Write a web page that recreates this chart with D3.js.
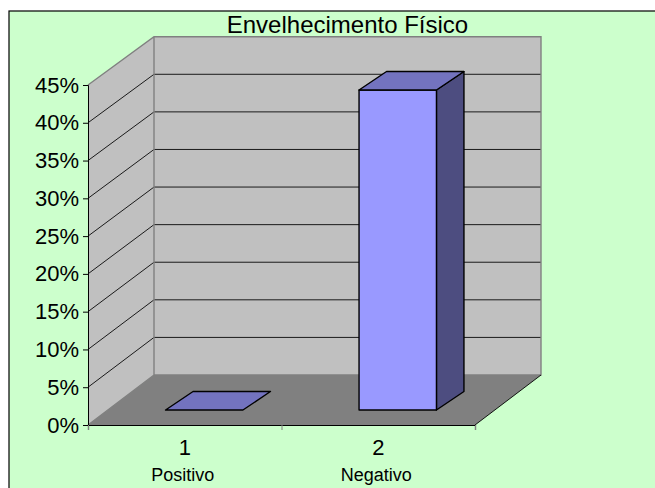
<!DOCTYPE html>
<html><head><meta charset="utf-8">
<script src="https://cdn.jsdelivr.net/npm/d3@7"></script>
<style>html,body{margin:0;padding:0;background:#fff}svg{display:block}text{font-family:"Liberation Sans",Arial,sans-serif;fill:#000}</style>
</head><body><svg id="c" width="655" height="488"></svg>
<script>
const title = "Envelhecimento Físico";
const categories = ["1","2"];
const categoryNames = ["Positivo","Negativo"];
const values = [0, 0.4235];
const yTicks = [0,.05,.1,.15,.2,.25,.3,.35,.4,.45];

const svg = d3.select("#c");
const W=655,H=488;
const dx=66, bdx=27.5, bdy=18.5, offX=19.5, offY=15;
const y=d3.scaleLinear().domain([0,.45]).range([425,85]);
const yBack=d3.scaleLinear().domain([0,.45]).range([375,36.7]);
const xb=d3.scaleBand().domain(categories).range([88,475]).paddingInner(.6).paddingOuter(.3);
const xe=d3.scaleLinear().domain([0,2]).range([88,475]);
const pts=a=>a.map(p=>p.join(",")).join(" ");

svg.append("rect").attr("x",9).attr("y",11).attr("width",W+5).attr("height",H+5).attr("fill","#ccffcc").attr("stroke","#000").attr("stroke-width",1.2);

const xL=xe(0),xR=xe(2),yB=y(0),yT=y(.45),bB=yBack(0),bT=yBack(.45);
// walls
svg.append("polygon").attr("points",pts([[xL+dx,bT],[xR+dx,bT],[xR+dx,bB],[xL+dx,bB]])).attr("fill","#c0c0c0");
svg.append("polygon").attr("points",pts([[xL,yT],[xL+dx,bT],[xL+dx,bB],[xL,yB]])).attr("fill","#c0c0c0");
svg.append("polygon").attr("points",pts([[xL,yB],[xR,yB],[xR+dx,bB],[xL+dx,bB]])).attr("fill","#808080");

// gridlines
const grid=svg.append("g").attr("fill","none");
yTicks.slice(1,-1).forEach(t=>{
  grid.append("path").attr("d",`M${xL},${y(t)}L${xL+dx},${yBack(t)}L${xR+dx},${yBack(t)}`).attr("stroke","#1a1a1a").attr("stroke-width",1);
});
// wall borders
svg.append("path").attr("fill","none").attr("stroke","#808080").attr("stroke-width",1.4)
  .attr("d",`M${xL},${yT}L${xL+dx},${bT}L${xR+dx},${bT}L${xR+dx},${bB}L${xL+dx},${bB}L${xL+dx},${bT}M${xL},${yB}L${xL+dx},${bB}`);
svg.append("line").attr("x1",xR).attr("y1",yB).attr("x2",xR+dx).attr("y2",bB).attr("stroke","#000").attr("stroke-width",.9);

// bars
categories.forEach((c,i)=>{
  const x0=xb(c)+offX, x1=x0+xb.bandwidth(), b=y(0)-offY, t=y(values[i])-offY;
  const g=svg.append("g").attr("stroke","#000").attr("stroke-width",1.4).attr("stroke-linejoin","round");
  if(values[i]>0){
    g.append("polygon").attr("points",pts([[x1,t],[x1+bdx,t-bdy],[x1+bdx,b-bdy],[x1,b]])).attr("fill","#4d4d80");
    g.append("polygon").attr("points",pts([[x0,t],[x1,t],[x1,b],[x0,b]])).attr("fill","#9999ff");
  }
  g.append("polygon").attr("points",pts([[x0,t],[x1,t],[x1+bdx,t-bdy],[x0+bdx,t-bdy]])).attr("fill","#7373bf");
});

// axes
const ya=svg.append("g").attr("transform",`translate(${xL},0)`)
  .call(d3.axisLeft(y).tickValues(yTicks).tickSize(5).tickPadding(4).tickFormat(d3.format(".0%")));
ya.selectAll("text").attr("font-size",22);
ya.select(".domain").attr("stroke","#000");
const xa=svg.append("g").attr("transform",`translate(0,${yB})`)
  .call(d3.axisBottom(xe).tickValues([0,1,2]).tickSize(5).tickFormat(""));
xa.select(".domain").attr("stroke","#000").attr("stroke-width",1.2);
xa.selectAll(".tick line").attr("stroke","#808080");

const cat=svg.append("g").attr("text-anchor","middle");
categories.forEach((c,i)=>{
  const cx=xb(c)+xb.bandwidth()/2;
  cat.append("text").attr("x",cx).attr("y",455).attr("font-size",22).text(c);
  cat.append("text").attr("x",cx-2).attr("y",481).attr("font-size",18).text(categoryNames[i]);
});
svg.append("text").attr("x",347.5).attr("y",33).attr("text-anchor","middle").attr("font-size",24).text(title);
</script></body></html>
